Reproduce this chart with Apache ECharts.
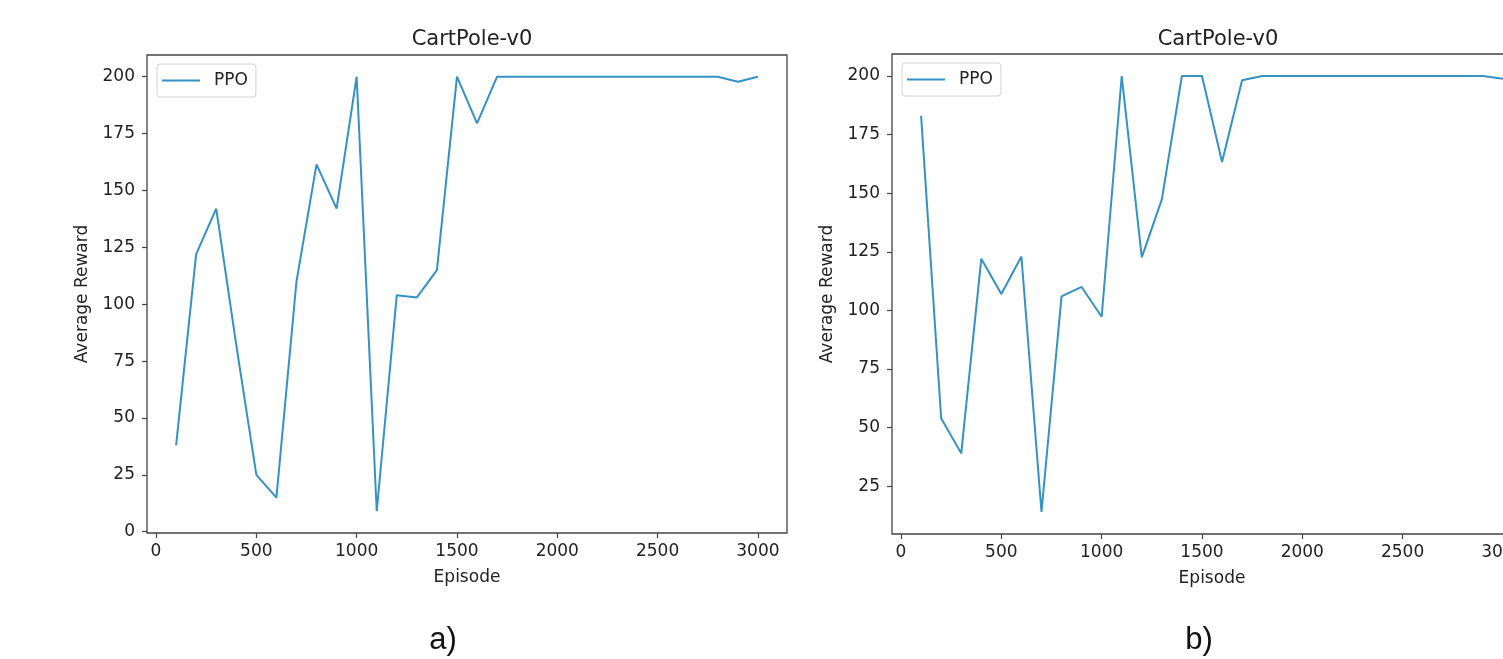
<!DOCTYPE html>
<html>
<head>
<meta charset="utf-8">
<title>CartPole-v0 PPO</title>
<script src="https://cdn.jsdelivr.net/npm/echarts@6/dist/echarts.min.js"></script>
<style>
  html, body { margin: 0; padding: 0; background: #fff; overflow: hidden; }
  #chart { width: 1545px; height: 659px; }
</style>
</head>
<body>
<div id="chart"></div>
<script>
// episodes sampled every 100
const episodes = [100, 200, 300, 400, 500, 600, 700, 800, 900, 1000,
  1100, 1200, 1300, 1400, 1500, 1600, 1700, 1800, 1900, 2000,
  2100, 2200, 2300, 2400, 2500, 2600, 2700, 2800, 2900, 3000];

// panel a) average reward
const rewardA = [38, 122, 142, 82, 25, 15, 110, 161.5, 142, 200,
  9, 104, 103, 115, 200, 179.5, 200, 200, 200, 200,
  200, 200, 200, 200, 200, 200, 200, 200, 197.8, 200];

// panel b) average reward
const rewardB = [183, 54, 39, 122, 107, 123, 14, 106, 110, 97.3,
  200, 122.6, 147.4, 200, 200, 163.3, 198.2, 200, 200, 200,
  200, 200, 200, 200, 200, 200, 200, 200, 200, 198.8];

const xTicks = [0, 500, 1000, 1500, 2000, 2500, 3000];
const yTicksA = [0, 25, 50, 75, 100, 125, 150, 175, 200];
const yTicksB = [25, 50, 75, 100, 125, 150, 175, 200];

const lineColor = '#3592c4';
const frameColor = '#444';
const font = 'DejaVu Sans';

const chart = echarts.init(document.getElementById('chart'));

// plain numbers, no thousands separator
const plain = (v) => String(v);

const xAxisFor = (gridIndex) => ({
  type: 'value',
  gridIndex,
  min: -45,
  max: 3145,
  name: 'Episode',
  nameLocation: 'middle',
  nameGap: 36,
  nameTextStyle: { fontFamily: font, fontSize: 17, color: '#222' },
  axisLine: { show: false, onZero: false },
  axisTick: { show: true, length: 5, customValues: xTicks, lineStyle: { color: frameColor, width: 1.2 } },
  axisLabel: { customValues: xTicks, formatter: plain, fontFamily: font, fontSize: 17, color: '#222', margin: 10 },
  splitLine: { show: false }
});

const yAxisFor = (gridIndex, min, max, ticks) => ({
  type: 'value',
  gridIndex,
  min,
  max,
  name: 'Average Reward',
  nameLocation: 'middle',
  nameGap: 56,
  nameTextStyle: { fontFamily: font, fontSize: 17, color: '#222' },
  axisLine: { show: false, onZero: false },
  axisTick: { show: true, length: 5, customValues: ticks, lineStyle: { color: frameColor, width: 1.2 } },
  axisLabel: { customValues: ticks, formatter: plain, fontFamily: font, fontSize: 17, color: '#222', margin: 12 },
  splitLine: { show: false }
});

const legendFor = (left, top) => ({
  left,
  top,
  data: [{ name: 'PPO', icon: 'rect' }],
  itemWidth: 38,
  itemHeight: 2,
  padding: [8, 8, 8, 5],
  borderColor: '#d4d4d4',
  borderWidth: 1,
  borderRadius: 3,
  textStyle: { fontFamily: font, fontSize: 17, color: '#222', padding: [0, 0, 0, 9] }
});

const option = {
  animation: false,
  backgroundColor: '#fff',
  title: [
    { text: 'CartPole-v0', left: 467, top: 24, textAlign: 'center',
      textStyle: { fontFamily: font, fontSize: 21, fontWeight: 'normal', color: '#222' } },
    { text: 'CartPole-v0', left: 1213, top: 24, textAlign: 'center',
      textStyle: { fontFamily: font, fontSize: 21, fontWeight: 'normal', color: '#222' } },
    { text: 'a)', left: 438, top: 620, textAlign: 'center',
      textStyle: { fontFamily: 'Liberation Sans', fontSize: 31, fontWeight: 'normal', color: '#111' } },
    { text: 'b)', left: 1194, top: 620, textAlign: 'center',
      textStyle: { fontFamily: 'Liberation Sans', fontSize: 31, fontWeight: 'normal', color: '#111' } }
  ],
  legend: [legendFor(157, 64), legendFor(902, 63)],
  grid: [
    { left: 147, top: 55, width: 640, height: 478, show: true, borderColor: frameColor, borderWidth: 1.3 },
    { left: 892, top: 54, width: 640, height: 480, show: true, borderColor: frameColor, borderWidth: 1.3 }
  ],
  xAxis: [xAxisFor(0), xAxisFor(1)],
  yAxis: [yAxisFor(0, -0.55, 209.55, yTicksA), yAxisFor(1, 4.6, 209.4, yTicksB)],
  series: [
    {
      name: 'PPO',
      type: 'line',
      xAxisIndex: 0,
      yAxisIndex: 0,
      showSymbol: false,
      lineStyle: { color: lineColor, width: 2 },
      itemStyle: { color: lineColor },
      data: episodes.map((e, i) => [e, rewardA[i]])
    },
    {
      name: 'PPO',
      type: 'line',
      xAxisIndex: 1,
      yAxisIndex: 1,
      showSymbol: false,
      lineStyle: { color: lineColor, width: 2 },
      itemStyle: { color: lineColor },
      data: episodes.map((e, i) => [e, rewardB[i]])
    }
  ]
};

chart.setOption(option);
</script>
</body>
</html>
